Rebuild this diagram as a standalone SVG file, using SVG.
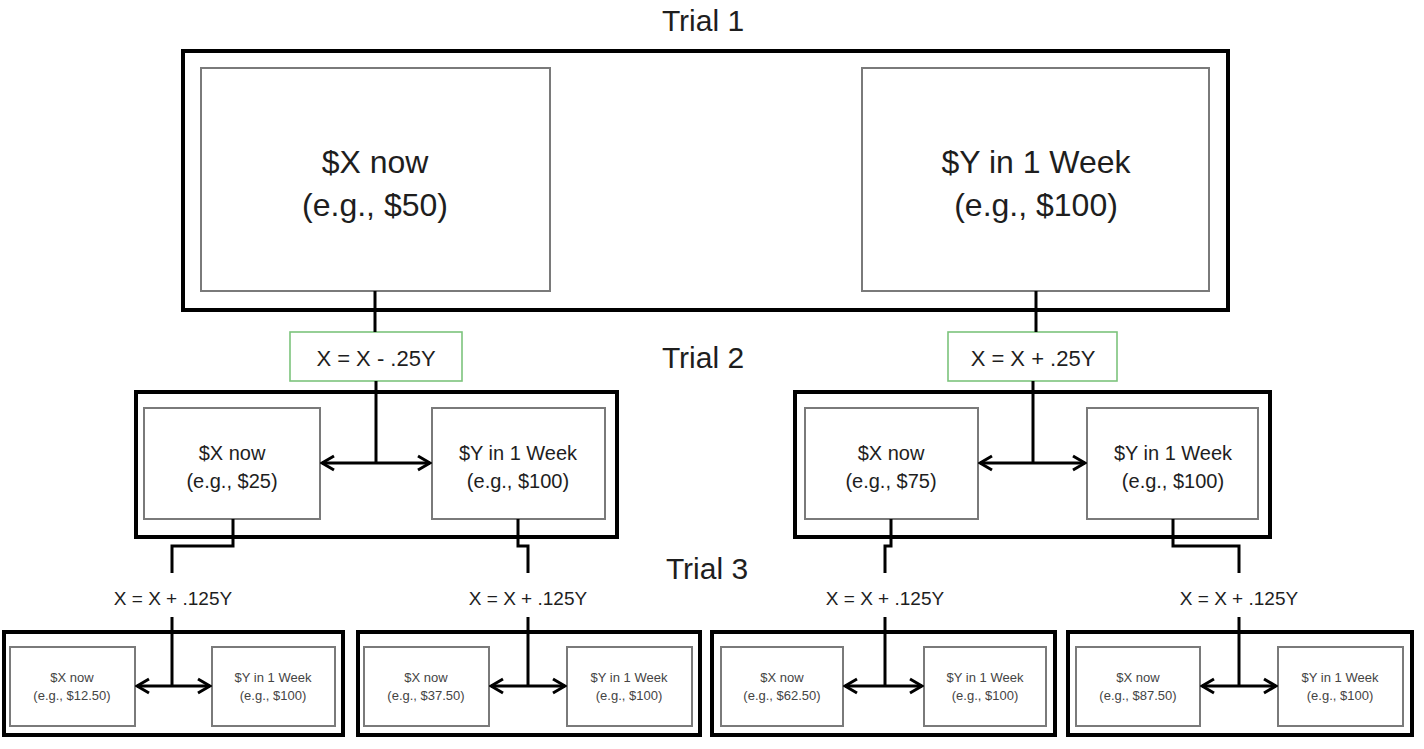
<svg xmlns="http://www.w3.org/2000/svg" width="1424" height="749" viewBox="0 0 1424 749">
<defs>
<style>
.outer{fill:none;stroke:#000;stroke-width:4}
.inner{fill:#fff;stroke:#7a7a7a;stroke-width:2}
.green{fill:#fff;stroke:#7cc47c;stroke-width:1.6}
.conn{fill:none;stroke:#000;stroke-width:3}
text{font-family:"Liberation Sans",Arial,sans-serif;fill:#1e1e1e;text-anchor:middle}
.t1{font-size:32px}
.t2{font-size:20px}
.t3{font-size:13px;fill:#444}
.lbl{font-size:30px}
.f1{font-size:22px}
.f2{font-size:19px}
</style>
<marker id="ah" viewBox="0 0 16 18" refX="14" refY="9" markerWidth="16" markerHeight="18" markerUnits="userSpaceOnUse" orient="auto-start-reverse">
<path d="M2,2 L14,9 L2,16" fill="none" stroke="#000" stroke-width="3"/>
</marker>
</defs>
<rect width="1424" height="749" fill="#fff"/>

<g id="labels">
<text class="lbl" x="703" y="31">Trial 1</text>
<text class="lbl" x="703" y="368">Trial 2</text>
<text class="lbl" x="707" y="579">Trial 3</text>
</g>

<g id="trial1">
<rect class="outer" x="183" y="51" width="1045" height="259"/>
<g id="t1-now">
<rect class="inner" x="201" y="68" width="349" height="223"/>
<text class="t1" x="375" y="173">$X now</text>
<text class="t1" x="375" y="216">(e.g., $50)</text>
</g>
<g id="t1-week">
<rect class="inner" x="862" y="68" width="347" height="223"/>
<text class="t1" x="1036" y="173">$Y in 1 Week</text>
<text class="t1" x="1036" y="216">(e.g., $100)</text>
</g>
</g>

<g id="formula-left">
<rect class="green" x="290" y="332" width="172" height="49"/>
<text class="f1" x="376" y="366">X = X - .25Y</text>
</g>
<g id="formula-right">
<rect class="green" x="948" y="332" width="169" height="49"/>
<text class="f1" x="1033" y="366">X = X + .25Y</text>
</g>

<g id="trial2-left">
<rect class="outer" x="136" y="392" width="481" height="145"/>
<g id="t2l-now">
<rect class="inner" x="144" y="408" width="176" height="111"/>
<text class="t2" x="232" y="460">$X now</text>
<text class="t2" x="232" y="488">(e.g., $25)</text>
</g>
<g id="t2l-week">
<rect class="inner" x="432" y="408" width="173" height="111"/>
<text class="t2" x="518" y="460">$Y in 1 Week</text>
<text class="t2" x="518" y="488">(e.g., $100)</text>
</g>
</g>

<g id="trial2-right">
<rect class="outer" x="795" y="392" width="475" height="145"/>
<g id="t2r-now">
<rect class="inner" x="805" y="408" width="173" height="111"/>
<text class="t2" x="891" y="460">$X now</text>
<text class="t2" x="891" y="488">(e.g., $75)</text>
</g>
<g id="t2r-week">
<rect class="inner" x="1087" y="408" width="171" height="111"/>
<text class="t2" x="1173" y="460">$Y in 1 Week</text>
<text class="t2" x="1173" y="488">(e.g., $100)</text>
</g>
</g>

<g id="formulas3">
<text class="f2" x="173" y="605">X = X + .125Y</text>
<text class="f2" x="528" y="605">X = X + .125Y</text>
<text class="f2" x="885" y="605">X = X + .125Y</text>
<text class="f2" x="1239" y="605">X = X + .125Y</text>
</g>

<g id="trial3-a">
<rect class="outer" x="4" y="632" width="339" height="103"/>
<g id="t3a-now">
<rect class="inner" x="10" y="647" width="125" height="79"/>
<text class="t3" x="72" y="682">$X now</text>
<text class="t3" x="72" y="700">(e.g., $12.50)</text>
</g>
<g id="t3a-week">
<rect class="inner" x="212" y="647" width="123" height="79"/>
<text class="t3" x="273" y="682">$Y in 1 Week</text>
<text class="t3" x="273" y="700">(e.g., $100)</text>
</g>
</g>

<g id="trial3-b">
<rect class="outer" x="358" y="632" width="342" height="103"/>
<g id="t3b-now">
<rect class="inner" x="364" y="647" width="125" height="79"/>
<text class="t3" x="426" y="682">$X now</text>
<text class="t3" x="426" y="700">(e.g., $37.50)</text>
</g>
<g id="t3b-week">
<rect class="inner" x="567" y="647" width="125" height="79"/>
<text class="t3" x="629" y="682">$Y in 1 Week</text>
<text class="t3" x="629" y="700">(e.g., $100)</text>
</g>
</g>

<g id="trial3-c">
<rect class="outer" x="712" y="632" width="343" height="103"/>
<g id="t3c-now">
<rect class="inner" x="721" y="647" width="122" height="79"/>
<text class="t3" x="782" y="682">$X now</text>
<text class="t3" x="782" y="700">(e.g., $62.50)</text>
</g>
<g id="t3c-week">
<rect class="inner" x="924" y="647" width="122" height="79"/>
<text class="t3" x="985" y="682">$Y in 1 Week</text>
<text class="t3" x="985" y="700">(e.g., $100)</text>
</g>
</g>

<g id="trial3-d">
<rect class="outer" x="1068" y="632" width="344" height="103"/>
<g id="t3d-now">
<rect class="inner" x="1076" y="647" width="124" height="79"/>
<text class="t3" x="1138" y="682">$X now</text>
<text class="t3" x="1138" y="700">(e.g., $87.50)</text>
</g>
<g id="t3d-week">
<rect class="inner" x="1278" y="647" width="125" height="79"/>
<text class="t3" x="1340" y="682">$Y in 1 Week</text>
<text class="t3" x="1340" y="700">(e.g., $100)</text>
</g>
</g>

<g id="connectors">
<path class="conn" d="M375,291 V332"/>
<path class="conn" d="M1036,291 V332"/>
<path class="conn" d="M376,381 V463"/>
<path class="conn" d="M322,463 H430" marker-start="url(#ah)" marker-end="url(#ah)"/>
<path class="conn" d="M1033,381 V463"/>
<path class="conn" d="M980,463 H1085" marker-start="url(#ah)" marker-end="url(#ah)"/>
<path class="conn" d="M233,519 V546 H172 V573"/>
<path class="conn" d="M518,519 V546 H528 V573"/>
<path class="conn" d="M891,519 V546 H885 V573"/>
<path class="conn" d="M1173,519 V546 H1239 V573"/>
<path class="conn" d="M172,617 V686"/>
<path class="conn" d="M137,686 H210" marker-start="url(#ah)" marker-end="url(#ah)"/>
<path class="conn" d="M528,617 V686"/>
<path class="conn" d="M491,686 H565" marker-start="url(#ah)" marker-end="url(#ah)"/>
<path class="conn" d="M885,617 V686"/>
<path class="conn" d="M845,686 H922" marker-start="url(#ah)" marker-end="url(#ah)"/>
<path class="conn" d="M1239,617 V686"/>
<path class="conn" d="M1202,686 H1276" marker-start="url(#ah)" marker-end="url(#ah)"/>
</g>
</svg>
